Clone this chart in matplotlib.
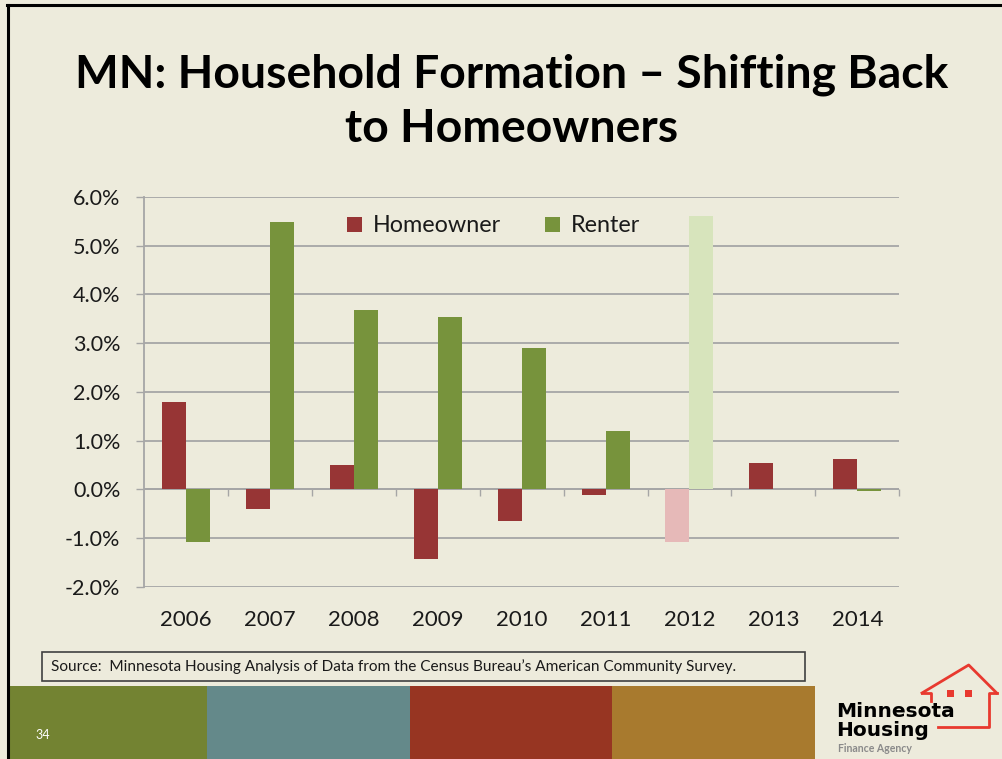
import matplotlib.pyplot as plt
import numpy as np
from matplotlib.patches import Rectangle
from matplotlib.lines import Line2D

# Data (percent change in households)
years = ['2006', '2007', '2008', '2009', '2010', '2011', '2012', '2013', '2014']
homeowner = [1.80, -0.40, 0.50, -1.44, -0.65, -0.12, -1.08, 0.53, 0.62]
renter = [-1.09, 5.48, 3.68, 3.54, 2.89, 1.20, 5.61, 0.0, -0.04]
faded_year = '2012'
yticks = [-2, -1, 0, 1, 2, 3, 4, 5, 6]

title = 'MN: Household Formation \u2013 Shifting Back\nto Homeowners'
source = 'Source:  Minnesota Housing Analysis of Data from the Census Bureau\u2019s American Community Survey.'

bg = '#EDEBDC'
red = '#973535'
green = '#77933C'
red_light = '#E6B9B8'
green_light = '#D7E4BC'
grid_c = '#A6A6A6'
band_colors = ['#738332', '#64898A', '#973522', '#A87A2E']

plt.rcParams['font.family'] = ['Lato', 'DejaVu Sans']

W, H = 1003, 759
fig = plt.figure(figsize=(W / 100, H / 100), dpi=100, facecolor=bg)

# helper: pixel -> figure fraction
def fx(px):
    return px / W

def fy(py):
    return 1 - py / H

# slide frame (top and left black lines)
fig.add_artist(Line2D([fx(7), 1], [fy(5), fy(5)], color='black', lw=2.2))
fig.add_artist(Line2D([fx(8), fx(8)], [fy(5), 0], color='black', lw=2.2))

# title
fig.text(fx(512), fy(102), title, ha='center', va='center', fontsize=33.3,
         fontweight='bold', color='black', linespacing=1.36)

# chart
ax = fig.add_axes([fx(144), fy(586.7), fx(899.3) - fx(144), fy(197) - fy(586.7)])
ax.set_facecolor('none')
x = np.arange(len(years))
w = 0.286
hc = [red_light if y == faded_year else red for y in years]
rc = [green_light if y == faded_year else green for y in years]
ax.bar(x - w / 2, homeowner, w, color=hc, label='Homeowner', zorder=3)
ax.bar(x + w / 2, renter, w, color=rc, label='Renter', zorder=3)

ax.set_xlim(-0.5, len(years) - 0.5)
ax.set_ylim(-2, 6)
ax.set_yticks(yticks)
ax.set_yticklabels(['%.1f%%' % v for v in yticks])
ax.yaxis.grid(True, color=grid_c, lw=1.3, zorder=0)
ax.set_axisbelow(True)
ax.tick_params(axis='y', length=6, width=1, color=grid_c, pad=11,
               labelsize=15.5, labelcolor='#1a1a1a')
ax.set_xticks(x)
ax.set_xticklabels(years)
ax.tick_params(axis='x', length=0, pad=17, labelsize=16, labelcolor='#1a1a1a')
for s in ['top', 'right', 'bottom']:
    ax.spines[s].set_visible(False)
ax.spines['left'].set_color(grid_c)
ax.spines['left'].set_linewidth(1.3)

# zero axis with category boundary ticks
ax.axhline(0, color=grid_c, lw=1.3, zorder=2)
zero_pos = (0 - ax.get_ylim()[0]) / (ax.get_ylim()[1] - ax.get_ylim()[0])
sec = ax.secondary_xaxis(zero_pos)
sec.set_xticks(np.arange(0.5, len(years), 1.0))
sec.tick_params(axis='x', direction='out', length=5, width=1, color=grid_c,
                labelbottom=False, labeltop=False)
sec.spines['bottom'].set_visible(False)
sec.spines['top'].set_visible(False)

leg = ax.legend(loc='center', bbox_to_anchor=(0.463, 0.9256), ncol=2,
                frameon=False, fontsize=16.8, handlelength=0.65, handleheight=0.65,
                columnspacing=1.9, handletextpad=0.45)
for t in leg.get_texts():
    t.set_color('#1a1a1a')

# source box
fig.add_artist(Rectangle((fx(42), fy(681)), fx(805) - fx(42), fy(652) - fy(681),
                         facecolor='none', edgecolor='#404040', lw=1.2))
fig.text(fx(51), fy(666.5), source, ha='left', va='center', fontsize=11.1,
         color='#1a1a1a')

# colour bands
edges = [10, 207, 410, 612, 815]
for i, c in enumerate(band_colors):
    fig.add_artist(Rectangle((fx(edges[i]), 0), fx(edges[i + 1]) - fx(edges[i]),
                             fy(686), facecolor=c, edgecolor='none'))
fig.text(fx(35), fy(735), '34', color='white', fontsize=9, ha='left', va='center')

# logo
logo_red = '#E8392F'
fig.add_artist(Line2D([fx(922), fx(968.7), fx(996.7)], [fy(693), fy(665), fy(693)],
                      color=logo_red, lw=2))
fig.add_artist(Line2D([fx(922), fx(931.5), fx(931.5)], [fy(693), fy(693), fy(701)],
                      color=logo_red, lw=2))
fig.add_artist(Line2D([fx(996.7), fx(989.3), fx(989.3), fx(938)],
                      [fy(693), fy(693), fy(727.3), fy(727.3)], color=logo_red, lw=2))
for wx in [946.7, 965]:
    fig.add_artist(Rectangle((fx(wx), fy(696.5)), fx(7.5) - fx(0), fy(689.5) - fy(696.5),
                             facecolor=logo_red, edgecolor='none'))
fig.text(fx(836), fy(717), 'Minnesota', fontsize=14.5, fontweight='bold',
         color='black', ha='left', va='baseline', family=['DejaVu Sans'])
fig.text(fx(836), fy(736), 'Housing', fontsize=14.5, fontweight='bold',
         color='black', ha='left', va='baseline', family=['DejaVu Sans'])
fig.text(fx(838), fy(749), 'Finance Agency', fontsize=7.6, fontweight='bold',
         color='#8a8a8a', ha='left', va='center')

fig.savefig('out.png', dpi=100, facecolor=bg)
